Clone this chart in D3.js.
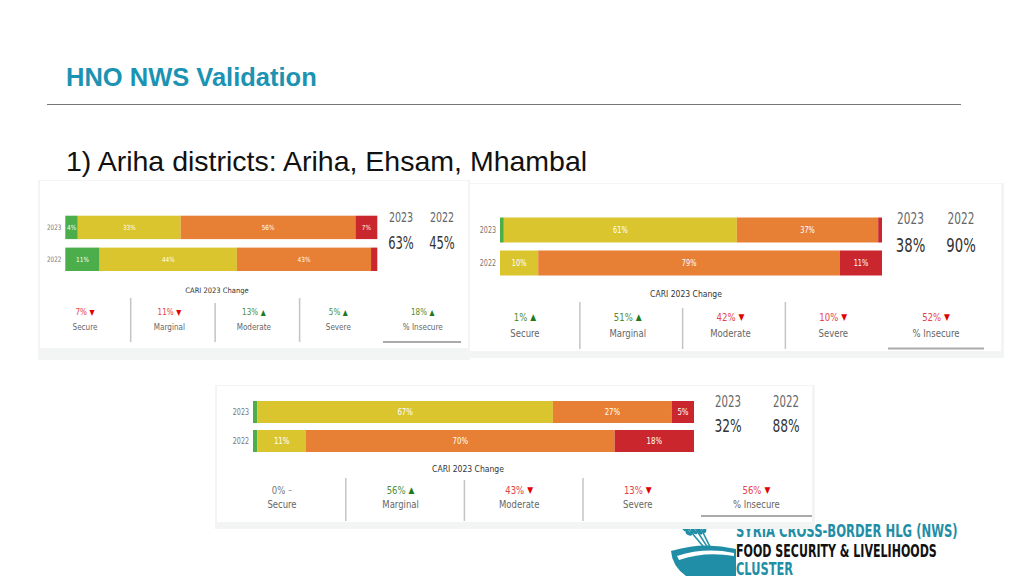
<!DOCTYPE html>
<html><head><meta charset="utf-8">
<script src="https://cdn.jsdelivr.net/npm/d3@7"></script>
<style>html,body{margin:0;padding:0;background:#fff;}svg{display:block;}</style>
</head><body>
<script>
// ---------- data ----------
const years = ["2023", "2022"];
const categories = ["Secure", "Marginal", "Moderate", "Severe"];
const changeLabels = ["Secure", "Marginal", "Moderate", "Severe", "% Insecure"];

const p1_2023 = [4, 33, 56, 7];
const p1_2022 = [11, 44, 43, 2];
const p1_insecure = [63, 45];
const p1_change = [7, 11, 13, 5, 18];
const p1_dir = ["down", "down", "up", "up", "up"];

const p2_2023 = [1, 61, 37, 1];
const p2_2022 = [0, 10, 79, 11];
const p2_insecure = [38, 90];
const p2_change = [1, 51, 42, 10, 52];
const p2_dir = ["up", "up", "down", "down", "down"];

const p3_2023 = [1, 67, 27, 5];
const p3_2022 = [1, 11, 70, 18];
const p3_insecure = [32, 88];
const p3_change = [0, 56, 43, 13, 56];
const p3_dir = ["none", "up", "down", "down", "down"];

const logoLines = ["SYRIA CROSS-BORDER HLG (NWS)", "FOOD SECURITY & LIVELIHOODS", "CLUSTER"];

// ---------- styles ----------
const segColors = ["#4cae4a", "#dbc52f", "#e77f35", "#c9262d"];
const COND = "'DejaVu Sans',sans-serif";
const SANS = "'Liberation Sans',Arial,sans-serif";

const W = 1024, H = 576;
const svg = d3.select("body").append("svg").attr("width", W).attr("height", H);

// squeeze a text horizontally to mimic the condensed face of the original
function condense(sel, f) {
  sel.each(function () {
    const w = this.getComputedTextLength();
    d3.select(this).attr("textLength", w * f).attr("lengthAdjust", "spacingAndGlyphs");
  });
}

// header
svg.append("text").attr("x", 66).attr("y", 86).text("HNO NWS Validation")
  .attr("font-family", SANS).attr("font-weight", "bold").attr("font-size", 25.5).attr("fill", "#1c93b2");
svg.append("line").attr("x1", 47).attr("x2", 961).attr("y1", 104.5).attr("y2", 104.5)
  .attr("stroke", "#777").attr("stroke-width", 1);
svg.append("text").attr("x", 66).attr("y", 171).text("1) Ariha districts: Ariha, Ehsam, Mhambal")
  .attr("font-family", SANS).attr("font-size", 28.5).attr("fill", "#111");

// ---------- logo (drawn before panels so the bottom panel overlaps it) ----------
const logo = svg.append("g");
const teal = "#1f8ea6";
[[0, 0, -40], [8, -3, -33], [16, -4, -26]].forEach(([dx, dy, rot]) => {
  const g = logo.append("g").attr("transform", `translate(${676 + dx},${514 + dy}) rotate(${rot})`);
  g.append("line").attr("x1", 0).attr("y1", 0).attr("x2", 0).attr("y2", 50)
    .attr("stroke", teal).attr("stroke-width", 1.5);
  for (let k = 0; k < 5; k++) {
    const cy = 3 + k * 5;
    g.append("ellipse").attr("cx", -2.6).attr("cy", cy).attr("rx", 1.9).attr("ry", 3.4)
      .attr("transform", `rotate(-22 -2.6 ${cy})`).attr("fill", teal);
    g.append("ellipse").attr("cx", 2.6).attr("cy", cy).attr("rx", 1.9).attr("ry", 3.4)
      .attr("transform", `rotate(22 2.6 ${cy})`).attr("fill", teal);
  }
});
logo.append("path")
  .attr("d", "M671,551 Q703,541 736,549 L736,576 L686,576 Q672,566 671,551 Z")
  .attr("fill", teal);
logo.append("path")
  .attr("d", "M677,556 Q705,547 734,553 L734,556 Q705,551 679,560 Z").attr("fill", "#fff");
const LOGOF = "'DejaVu Sans',sans-serif";
const logoSpec = [[537, 222, teal], [556.5, 201, "#111"], [575, 57, teal]];
logoLines.forEach((s, i) => {
  const [yy, wTarget, col] = logoSpec[i];
  const lg = logo.append("g");
  const t = lg.append("text").attr("x", 0).attr("y", 0).text(s)
    .attr("font-family", LOGOF).attr("font-weight", "bold").attr("font-size", 18).attr("fill", col);
  const wn = t.node().getComputedTextLength();
  lg.attr("transform", `translate(736,${yy}) scale(${wTarget / wn},1)`);
});

// ---------- panels ----------
const panels = [
  { d2023: p1_2023, d2022: p1_2022, ins: p1_insecure, ch: p1_change, dir: p1_dir,
    L: { bg: [38, 180, 470, 360], inner: [40, 181, 468, 348], bx: [65.3, 377.3], by: [215.7, 271], gap: 8.5,
         yearFs: 7.5, segFs: 7, hdrX: [401, 442], hdrY: 217, bigY: 243, hdrFs: 14, bigFs: 17,
         titleX: 217, titleY: 290, titleFs: 7.5, chX: [42.75, 465], valY: 312, labY: 327.5, chFs: 8.5,
         divOff: 3.5, divY: [[298, 342], [303, 342], [298, 342]], ulX: [383, 461], ulY: 342 } },
  { d2023: p2_2023, d2022: p2_2022, ins: p2_insecure, ch: p2_change, dir: p2_dir,
    L: { bg: [468, 183, 1004, 358], inner: [470, 184, 1001, 351], bx: [500, 882], by: [217.5, 275.5], gap: 8,
         yearFs: 8.5, segFs: 8, hdrX: [910.5, 961], hdrY: 218.5, bigY: 245.5, hdrFs: 15.5, bigFs: 19.5,
         titleX: 686, titleY: 294.5, titleFs: 8.5, chX: [473.6, 987.4], valY: 317, labY: 333.5, chFs: 10,
         divOff: 3.5, divY: [[302, 349], [308, 349], [302, 349]], ulX: [888, 984], ulY: 348.5 } },
  { d2023: p3_2023, d2022: p3_2022, ins: p3_insecure, ch: p3_change, dir: p3_dir,
    L: { bg: [215, 385, 815, 529], inner: [217, 386, 812, 522], bx: [253, 694], by: [401, 452], gap: 7,
         yearFs: 8.5, segFs: 8.5, hdrX: [728, 786], hdrY: 402, bigY: 426, hdrFs: 15, bigFs: 18,
         titleX: 468, titleY: 469, titleFs: 8.5, chX: [222.7, 815.7], valY: 490, labY: 504, chFs: 10,
         divOff: 4.5, divY: [[478, 521], [480, 521], [478, 521]], ulX: [701, 812], ulY: 516 } }
];

panels.forEach(p => {
  const L = p.L;
  const g = svg.append("g");
  g.append("rect").attr("x", L.bg[0]).attr("y", L.bg[1]).attr("width", L.bg[2] - L.bg[0])
    .attr("height", L.bg[3] - L.bg[1]).attr("fill", "#f3f4f4");
  g.append("rect").attr("x", L.inner[0]).attr("y", L.inner[1]).attr("width", L.inner[2] - L.inner[0])
    .attr("height", L.inner[3] - L.inner[1]).attr("fill", "#fff");

  const x = d3.scaleLinear().domain([0, 100]).range(L.bx);
  const bh = ((L.by[1] - L.by[0]) - L.gap) / 2;
  const y = d3.scaleBand().domain(years).range(L.by).paddingInner(L.gap / (bh + L.gap)).paddingOuter(0);

  const rows = [{ year: "2023", vals: p.d2023 }, { year: "2022", vals: p.d2022 }];
  rows.forEach(r => {
    let acc = 0;
    const segs = r.vals.map((v, i) => { const s = { v, i, x0: acc, x1: acc + v }; acc += v; return s; });
    const rg = g.append("g");
    rg.selectAll("rect").data(segs.filter(s => s.v > 0)).join("rect")
      .attr("x", s => x(s.x0)).attr("width", s => x(s.x1) - x(s.x0))
      .attr("y", y(r.year)).attr("height", y.bandwidth())
      .attr("fill", s => segColors[s.i]);
    rg.selectAll("text").data(segs.filter(s => s.v >= 4)).join("text")
      .attr("x", s => (x(s.x0) + x(s.x1)) / 2).attr("y", y(r.year) + y.bandwidth() / 2)
      .attr("dy", "0.35em").attr("text-anchor", "middle")
      .attr("font-family", COND).attr("font-size", L.segFs).attr("fill", "#fff")
      .text(s => s.v + "%")
      .call(condense, 0.82);
  });

  const ax = g.append("g").attr("transform", `translate(${L.bx[0]},0)`)
    .call(d3.axisLeft(y).tickSize(0).tickPadding(4));
  ax.select(".domain").remove();
  ax.selectAll("text").attr("font-family", COND).attr("font-size", L.yearFs).attr("fill", "#777")
    .call(condense, 0.75);

  years.forEach((yr, i) => {
    g.append("text").attr("x", L.hdrX[i]).attr("y", L.hdrY).attr("dy", "0.35em").attr("text-anchor", "middle")
      .attr("font-family", COND).attr("font-size", L.hdrFs).attr("fill", "#666").text(yr)
      .call(condense, 0.68);
    g.append("text").attr("x", L.hdrX[i]).attr("y", L.bigY).attr("dy", "0.35em").attr("text-anchor", "middle")
      .attr("font-family", COND).attr("font-size", L.bigFs).attr("fill", "#333").text(p.ins[i] + "%")
      .call(condense, 0.68);
  });

  g.append("text").attr("x", L.titleX).attr("y", L.titleY).attr("dy", "0.35em").attr("text-anchor", "middle")
    .attr("font-family", COND).attr("font-size", L.titleFs).attr("fill", "#333").text("CARI 2023 Change")
    .call(condense, 0.9);
  const cx = d3.scaleBand().domain(changeLabels).range(L.chX);
  changeLabels.forEach((lab, i) => {
    const xc = cx(lab) + cx.bandwidth() / 2;
    const d = p.dir[i];
    const vcol = d === "down" ? "#e5414a" : d === "up" ? "#4e8d38" : "#777";
    const acol = d === "down" ? "#e00000" : d === "up" ? "#1e7a1e" : "#777";
    const arrow = d === "down" ? "▼" : d === "up" ? "▲" : "–";
    const vt = g.append("text").attr("x", 0).attr("y", L.valY).attr("dy", "0.35em")
      .attr("font-family", COND).attr("font-size", L.chFs).attr("fill", vcol).text(p.ch[i] + "%")
      .call(condense, 0.85);
    const at = g.append("text").attr("x", 0).attr("y", L.valY).attr("dy", "0.35em")
      .attr("font-family", COND).attr("font-size", L.chFs * 0.9).attr("fill", acol).text(arrow)
      .call(condense, 0.85);
    const w1 = +vt.attr("textLength"), w2 = +at.attr("textLength"), gp = L.chFs * 0.3;
    const start = xc - (w1 + gp + w2) / 2;
    vt.attr("x", start);
    at.attr("x", start + w1 + gp);
    g.append("text").attr("x", xc).attr("y", L.labY).attr("dy", "0.35em").attr("text-anchor", "middle")
      .attr("font-family", COND).attr("font-size", L.chFs).attr("fill", "#666").text(lab)
      .call(condense, 0.85);
    if (i > 0 && i < 4) {
      const xd = cx(lab) + L.divOff;
      g.append("line").attr("x1", xd).attr("x2", xd).attr("y1", L.divY[i - 1][0]).attr("y2", L.divY[i - 1][1])
        .attr("stroke", "#c4c4c4").attr("stroke-width", 1.5);
    }
  });
  g.append("line").attr("x1", L.ulX[0]).attr("x2", L.ulX[1]).attr("y1", L.ulY).attr("y2", L.ulY)
    .attr("stroke", "#aaa").attr("stroke-width", 2);
});
</script>
</body></html>
